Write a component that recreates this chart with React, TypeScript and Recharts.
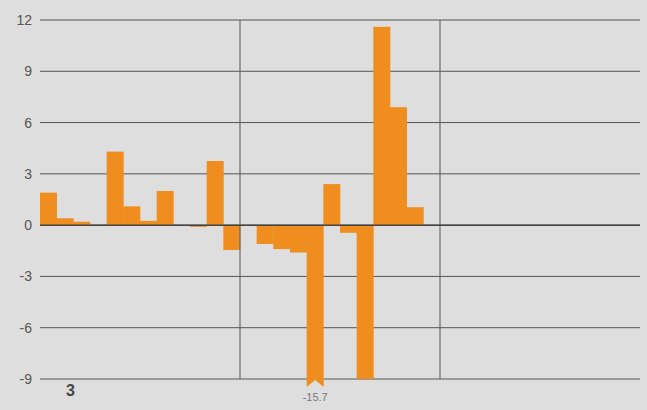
import { BarChart, Bar, XAxis, YAxis, CartesianGrid, ReferenceLine } from 'recharts'

// 36 slots, three blocks of twelve
const slots = Array.from({ length: 36 }, (_, i) => String(i + 1))
const values: (number | null)[] = [
  1.9, 0.4, 0.2, null, 4.3, 1.1, 0.25, 2.0, null, -0.1, 3.75, -1.45,
  null, -1.1, -1.4, -1.6, -15.7, 2.4, -0.45, -9.0, 11.6, 6.9, 1.05, null,
  null, null, null, null, null, null, null, null, null, null, null, null,
]
const yTicks = [-9, -6, -3, 0, 3, 6, 9, 12]
const Y_MIN = -9
const Y_MAX = 12
const blockStarts = ['13', '25']
const cornerLabel = '3'

const data = slots.map((slot, i) => ({ slot, value: values[i] }))

const ORANGE = '#ef8d1f'
const GRID = '#555'

// values below the axis floor are drawn to the floor, with a notch and the real value under it
const shown = (d: { value: number | null }) => (d.value == null ? null : Math.max(d.value, Y_MIN))

const ClippedBar = (props: any) => {
  const { x, y, width, height, payload } = props
  if (payload?.value == null || !width) return null
  const top = Math.min(y, y + height)
  const bottom = Math.max(y, y + height)
  if (payload.value >= Y_MIN) {
    return <rect x={x} y={top} width={width} height={bottom - top} fill={ORANGE} />
  }
  const b = bottom
  const d = `M${x},${top} L${x + width},${top} L${x + width},${b + 8} L${x + width / 2},${b + 1} L${x},${b + 8} Z`
  return (
    <g>
      <path d={d} fill={ORANGE} />
      <text x={x + width / 2} y={b + 22} textAnchor="middle" fontSize={11} fill="#777">
        {payload.value}
      </text>
    </g>
  )
}

export default function App() {
  return (
    <div style={{ position: 'absolute', left: 0, top: 0, width: 647, height: 410, background: '#dedede', fontFamily: 'Liberation Sans, Arial, sans-serif' }}>
      <BarChart
        width={647}
        height={410}
        data={data}
        margin={{ top: 20, right: 7, bottom: 31, left: 0 }}
        barCategoryGap={0}
        barGap={0}
      >
        <CartesianGrid vertical={false} stroke={GRID} strokeWidth={1} />
        <XAxis dataKey="slot" hide />
        <YAxis
          width={40}
          domain={[Y_MIN, Y_MAX]}
          ticks={yTicks}
          axisLine={false}
          tickLine={false}
          tick={{ fill: '#555', fontSize: 14 }}
        />
        {blockStarts.map((s) => (
          <ReferenceLine key={s} x={s} position="start" stroke={GRID} strokeWidth={1} />
        ))}
        <Bar dataKey={shown} fill={ORANGE} shape={<ClippedBar />} isAnimationActive={false} />
        <ReferenceLine y={0} stroke="#444" strokeWidth={1.5} />
      </BarChart>
      <div style={{ position: 'absolute', left: 66, top: 382, fontSize: 16, fontWeight: 'bold', color: '#444' }}>
        {cornerLabel}
      </div>
    </div>
  )
}
